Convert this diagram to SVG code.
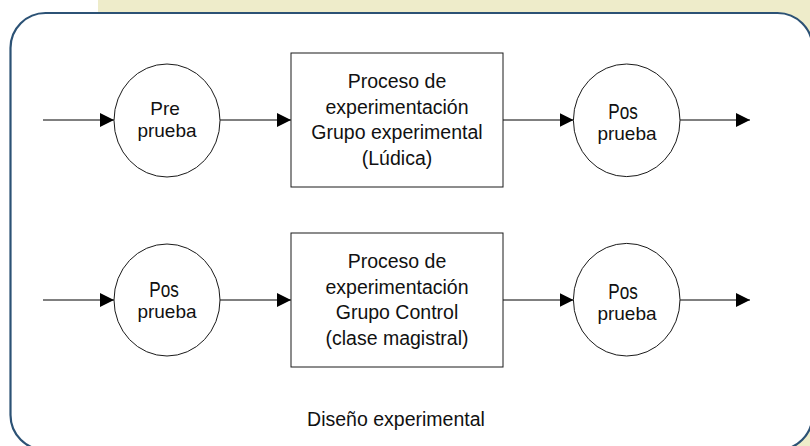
<svg xmlns="http://www.w3.org/2000/svg" width="810" height="446" viewBox="0 0 810 446">
  <defs>
    <marker id="arrow" markerWidth="14" markerHeight="14" viewBox="0 0 14 14" refX="14" refY="7" orient="auto" markerUnits="userSpaceOnUse">
      <path d="M0,0 L14,7 L0,14 Z" fill="#000"/>
    </marker>
    <style>
      .shape { fill: #fff; stroke: #1a1a1a; stroke-width: 1; }
      .conn { stroke: #000; stroke-width: 1; fill: none; marker-end: url(#arrow); }
      .t { font-family: "Liberation Sans", Arial, sans-serif; fill: #111; text-anchor: middle; }
      .box { font-size: 19.5px; }
      .circ { font-size: 19px; }
      .narrow { font-size: 22px; }
    </style>
  </defs>

  <rect x="0" y="0" width="810" height="446" fill="#ffffff"/>
  <rect x="98" y="0" width="712" height="446" fill="#EEECCA"/>
  <rect id="panel" x="10.5" y="13" width="802" height="437" rx="35" ry="35" fill="#ffffff" stroke="#2C5275" stroke-width="2.2"/>

  <g id="connectors">
    <line class="conn" x1="43" y1="120" x2="114" y2="120"/>
    <line class="conn" x1="220" y1="120" x2="291" y2="120"/>
    <line class="conn" x1="503" y1="120" x2="573.5" y2="120"/>
    <line class="conn" x1="680" y1="120" x2="750" y2="120"/>
    <line class="conn" x1="43" y1="300" x2="114" y2="300"/>
    <line class="conn" x1="220" y1="300" x2="291" y2="300"/>
    <line class="conn" x1="503" y1="300" x2="573.5" y2="300"/>
    <line class="conn" x1="680" y1="300" x2="750" y2="300"/>
  </g>

  <g id="pre-prueba">
    <ellipse class="shape" cx="167" cy="120.5" rx="53" ry="56.5"/>
    <text class="t circ" x="165" y="115">Pre</text>
    <text class="t circ" x="167" y="137">prueba</text>
  </g>

  <g id="proceso-experimental">
    <rect class="shape" x="291" y="53" width="212" height="134"/>
    <text class="t box" x="397" y="88">Proceso de</text>
    <text class="t box" x="397" y="113.7">experimentación</text>
    <text class="t box" x="397" y="139.3">Grupo experimental</text>
    <text class="t box" x="397" y="165">(Lúdica)</text>
  </g>

  <g id="pos-prueba-1">
    <ellipse class="shape" cx="626.7" cy="120.3" rx="53.3" ry="56.3"/>
    <text class="t narrow" transform="translate(623,119.3) scale(0.78,1)">Pos</text>
    <text class="t circ" x="627" y="140">prueba</text>
  </g>

  <g id="pos-prueba-2">
    <ellipse class="shape" cx="167" cy="300" rx="53" ry="56"/>
    <text class="t narrow" transform="translate(164,297.3) scale(0.78,1)">Pos</text>
    <text class="t circ" x="167" y="318.3">prueba</text>
  </g>

  <g id="proceso-control">
    <rect class="shape" x="291" y="233" width="212" height="134"/>
    <text class="t box" x="397" y="268">Proceso de</text>
    <text class="t box" x="397" y="293.7">experimentación</text>
    <text class="t box" x="397" y="319.3">Grupo Control</text>
    <text class="t box" x="397" y="345">(clase magistral)</text>
  </g>

  <g id="pos-prueba-3">
    <ellipse class="shape" cx="626.7" cy="299.7" rx="53.3" ry="56.3"/>
    <text class="t narrow" transform="translate(623,299.3) scale(0.78,1)">Pos</text>
    <text class="t circ" x="627" y="320">prueba</text>
  </g>

  <text id="caption" class="t" x="396" y="426" font-size="19.5">Diseño experimental</text>
</svg>
